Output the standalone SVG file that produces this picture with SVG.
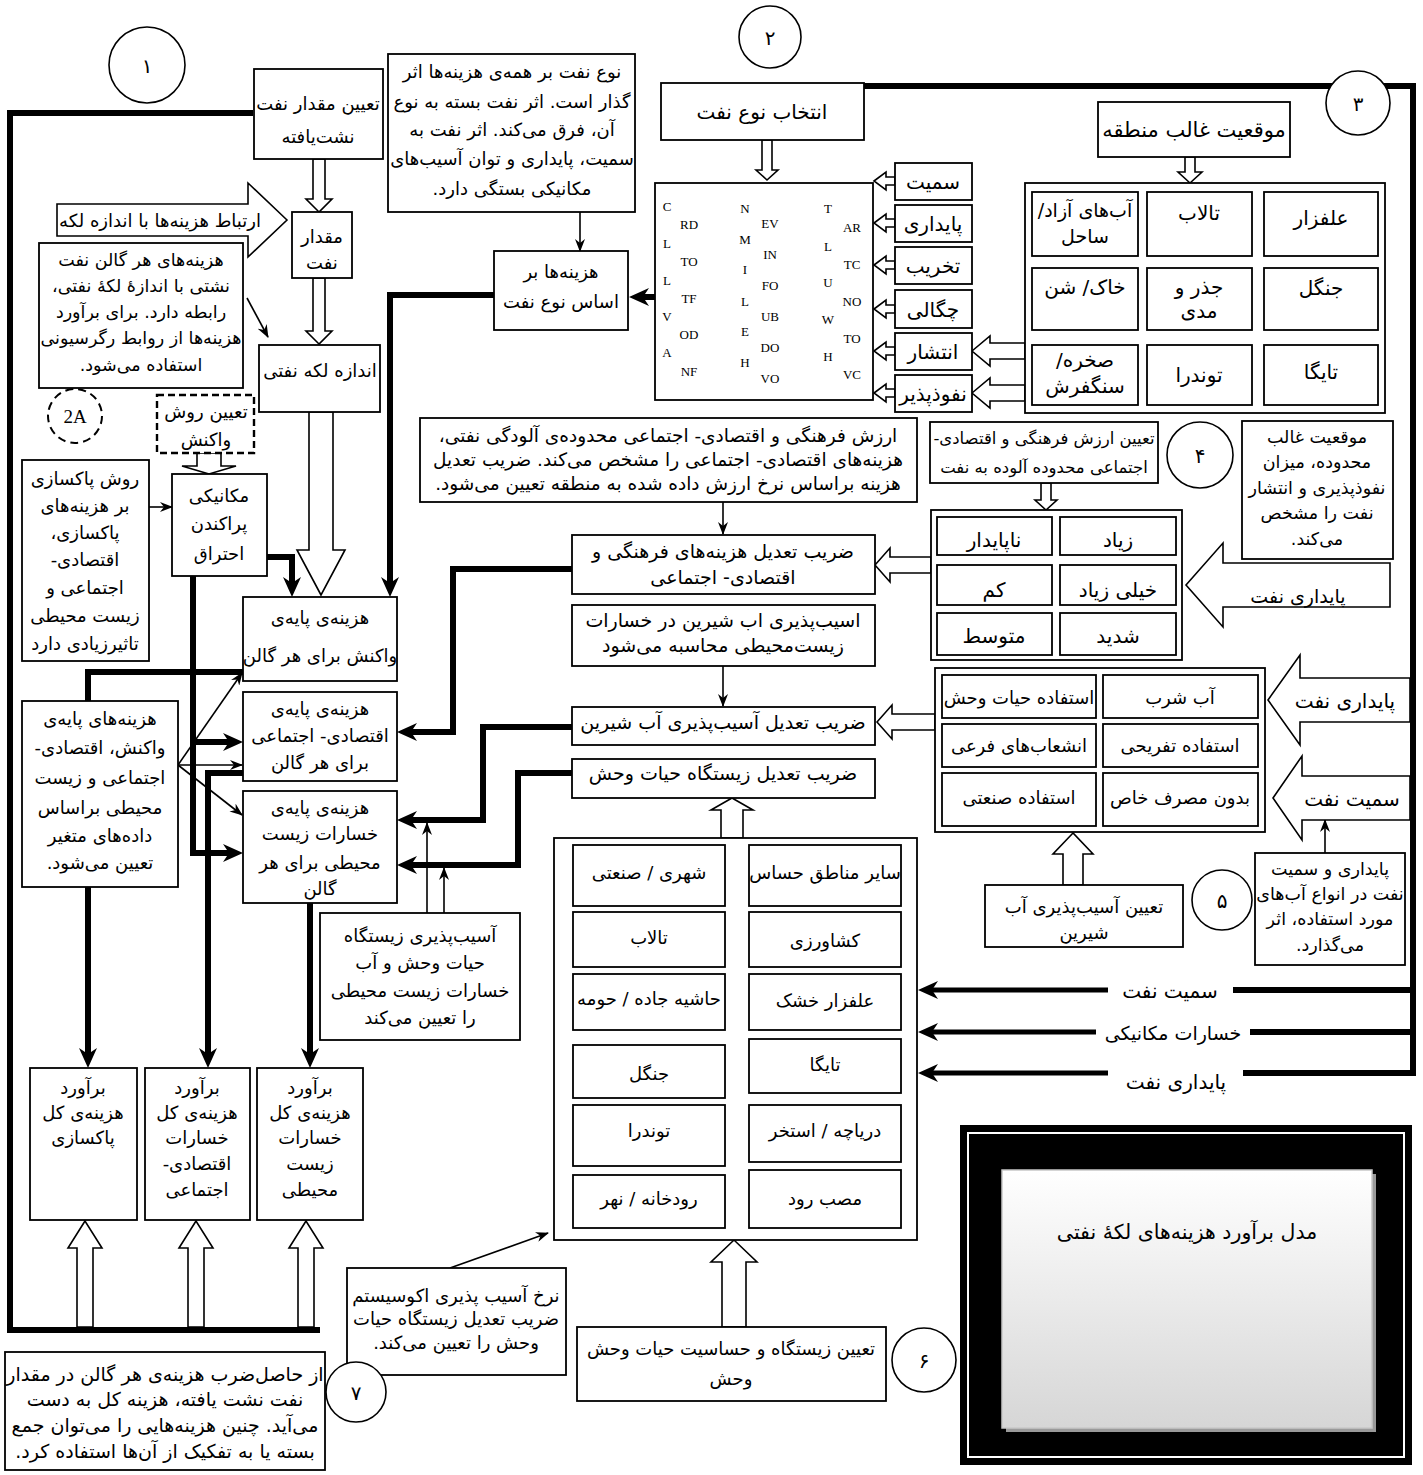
<svg xmlns="http://www.w3.org/2000/svg" width="1423" height="1475" viewBox="0 0 1423 1475">
<style>
.b{fill:#fff;stroke:#000;stroke-width:1.8}
.t{font-family:'DejaVu Sans',sans-serif;font-size:18px;text-anchor:middle;direction:rtl;fill:#000}
.l{font-family:'Liberation Serif',serif;font-size:13px;text-anchor:middle;fill:#000}
.thick{fill:none;stroke:#000;stroke-width:6}
.thin{fill:none;stroke:#000;stroke-width:1.6}
.ha{fill:#fff;stroke:#000;stroke-width:1.6;stroke-linejoin:miter}
.c{fill:#fff;stroke:#000;stroke-width:1.6}
.s20{font-size:20px}
.s19{font-size:19px}
.s17{font-size:17.5px}
</style>
<defs>
<marker id="ah" viewBox="0 0 20 18" markerWidth="20" markerHeight="18" refX="10" refY="9" orient="auto" markerUnits="userSpaceOnUse"><path d="M0,0 L20,9 L0,18 L6,9 Z" fill="#000"/></marker>
<marker id="as" viewBox="0 0 13 10" markerWidth="13" markerHeight="10" refX="12" refY="5" orient="auto" markerUnits="userSpaceOnUse"><path d="M0,0 L13,5 L0,10 L4,5 Z" fill="#000"/></marker>
<linearGradient id="pg" x1="0" y1="0" x2="0" y2="1"><stop offset="0" stop-color="#ffffff"/><stop offset="1" stop-color="#d6d6d6"/></linearGradient>
</defs>
<rect width="1423" height="1475" fill="#fff"/>

<g id="connectors">
<path class="thick" d="M253 113 H10 V1330 H320"/>
<path class="thick" d="M864 86 H1413 V1073 H1243"/>
<path class="thick" d="M1413 990 H1233"/>
<path class="thick" d="M1413 1032 H1250"/>
<path class="thick" d="M1108 990 H928" marker-end="url(#ah)" style="stroke-width:5"/>
<path class="thick" d="M1096 1032 H928" marker-end="url(#ah)" style="stroke-width:5"/>
<path class="thick" d="M1108 1073 H928" marker-end="url(#ah)" style="stroke-width:5"/>
<path class="thick" d="M494 295 H390 V587" marker-end="url(#ah)"/>
<path class="thick" d="M655 297 H639" marker-end="url(#ah)"/>
<path class="thick" d="M267 557 H292 V587" marker-end="url(#ah)"/>
<path class="thick" d="M572 569 H453 V732 H407" marker-end="url(#ah)"/>
<path class="thick" d="M572 727 H483 V820 H407" marker-end="url(#ah)"/>
<path class="thick" d="M572 773 H518 V865 H407" marker-end="url(#ah)"/>
<path class="thick" d="M88 701 V672 H243"/>
<path class="thick" d="M193 576 V853 H233" marker-end="url(#ah)"/>
<path class="thick" d="M193 742 H233" marker-end="url(#ah)"/>
<path class="thick" d="M243 773 H208 V1058" marker-end="url(#ah)"/>
<path class="thick" d="M88 887 V1058" marker-end="url(#ah)"/>
<path class="thick" d="M310 903 V1058" marker-end="url(#ah)"/>
<path class="thin" d="M580 212 V251" marker-end="url(#as)"/>
<path class="thin" d="M723 502 V534" marker-end="url(#as)"/>
<path class="thin" d="M723 666 V706" marker-end="url(#as)"/>
<path class="thin" d="M149 507 H172" marker-end="url(#as)"/>
<path class="thin" d="M247 298 L268 337" marker-end="url(#as)"/>
<path class="thin" d="M178 765 L242 673" marker-end="url(#as)"/>
<path class="thin" d="M178 765 H242" marker-end="url(#as)"/>
<path class="thin" d="M178 765 L242 815" marker-end="url(#as)"/>
<path class="thin" d="M427 913 V823" marker-end="url(#as)"/>
<path class="thin" d="M444 913 V868" marker-end="url(#as)"/>
<path class="thin" d="M1325 853 V820" marker-end="url(#as)"/>
<path class="thin" d="M450 1268 L548 1233" marker-end="url(#as)"/>
<path class="ha" d="M319 212 L306 199 L313 199 L313 159 L325 159 L325 199 L332 199 Z"/>
<path class="ha" d="M319 344 L306 331 L313 331 L313 278 L325 278 L325 331 L332 331 Z"/>
<path class="ha" d="M209 474 L182 466 L197 466 L197 453 L221 453 L221 466 L236 466 Z"/>
<path class="ha" d="M321 595 L297 550 L309 550 L309 412 L333 412 L333 550 L345 550 Z"/>
<path class="ha" d="M767 180 L756 170 L762 170 L762 140 L772 140 L772 170 L778 170 Z"/>
<path class="ha" d="M874 181 L886 172 L886 177 L895 177 L895 185 L886 185 L886 190 Z"/>
<path class="ha" d="M874 223 L886 214 L886 219 L895 219 L895 227 L886 227 L886 232 Z"/>
<path class="ha" d="M874 265 L886 256 L886 261 L895 261 L895 269 L886 269 L886 274 Z"/>
<path class="ha" d="M874 309 L886 300 L886 305 L895 305 L895 313 L886 313 L886 318 Z"/>
<path class="ha" d="M874 351 L886 342 L886 347 L895 347 L895 355 L886 355 L886 360 Z"/>
<path class="ha" d="M874 393 L886 384 L886 389 L895 389 L895 397 L886 397 L886 402 Z"/>
<path class="ha" d="M1190 183 L1178 172 L1185 172 L1185 157 L1195 157 L1195 172 L1202 172 Z"/>
<path class="ha" d="M972 351 L990 336 L990 343 L1025 343 L1025 359 L990 359 L990 366 Z"/>
<path class="ha" d="M972 393 L990 378 L990 385 L1025 385 L1025 401 L990 401 L990 408 Z"/>
<path class="ha" d="M1046 510 L1035 500 L1041 500 L1041 483 L1051 483 L1051 500 L1057 500 Z"/>
<path class="ha" d="M875 565 L890 548 L890 557 L931 557 L931 573 L890 573 L890 582 Z"/>
<path class="ha" d="M877 722 L892 705 L892 714 L935 714 L935 730 L892 730 L892 739 Z"/>
<path class="ha" d="M1073 833 L1053 854 L1063 854 L1063 885 L1083 885 L1083 854 L1093 854 Z"/>
<path class="ha" d="M732 798 L711 810 L721 810 L721 838 L743 838 L743 810 L753 810 Z"/>
<path class="ha" d="M734 1240 L711 1262 L722 1262 L722 1327 L746 1327 L746 1262 L757 1262 Z"/>
<path class="ha" d="M85 1221 L68 1248 L77 1248 L77 1327 L93 1327 L93 1248 L102 1248 Z"/>
<path class="ha" d="M196 1221 L179 1248 L188 1248 L188 1327 L204 1327 L204 1248 L213 1248 Z"/>
<path class="ha" d="M306 1221 L289 1248 L298 1248 L298 1327 L314 1327 L314 1248 L323 1248 Z"/>
<text class="t s20" x="1170" y="998">سمیت نفت</text>
<text class="t s19" x="1173" y="1040">خسارات مکانیکی</text>
<text class="t s20" x="1176" y="1089">پایداری نفت</text>
</g>

<g id="circle1"><circle class="c" cx="147" cy="65" r="38"/><text class="t s20" x="147" y="73">۱</text></g>
<g id="circle2"><circle class="c" cx="770" cy="37" r="31"/><text class="t s20" x="770" y="45">۲</text></g>
<g id="circle3"><circle class="c" cx="1358" cy="103" r="32"/><text class="t s20" x="1358" y="111">۳</text></g>
<g id="circle4"><circle class="c" cx="1200" cy="455" r="33"/><text class="t s20" x="1200" y="463">۴</text></g>
<g id="circle5"><circle class="c" cx="1222" cy="900" r="30"/><text class="t s20" x="1222" y="908">۵</text></g>
<g id="circle6"><circle class="c" cx="924" cy="1360" r="32"/><text class="t s20" x="924" y="1368">۶</text></g>
<g id="circle2A"><circle class="c" cx="75" cy="416" r="27" style="stroke-dasharray:8 5;stroke-width:2"/><text class="l" x="75" y="423" style="font-size:19px">2A</text></g>

<g id="n-amount-leak"><rect class="b" x="254" y="69" width="129" height="90"/><text class="t" x="318" y="110">تعیین مقدار نفت</text><text class="t" x="318" y="143">نشت‌یافته</text></g>
<g id="n-amount"><rect class="b" x="292" y="212" width="60" height="66"/><text class="t" x="322" y="243">مقدار</text><text class="t" x="322" y="269">نفت</text></g>
<g id="n-link-arrow"><path class="ha" d="M287 220 L248 183 L248 204 L57 204 L57 236 L248 236 L248 257 Z"/><text class="t" x="160" y="227">ارتباط هزینه‌ها با اندازه لکه</text></g>
<g id="n-note-gallon"><rect class="b" x="39" y="243" width="204" height="145"/>
<text class="t s17" x="141" y="266">هزینه‌های هر گالن نفت</text>
<text class="t s17" x="141" y="292">نشتی با اندازهٔ لکهٔ نفتی،</text>
<text class="t s17" x="141" y="318">رابطه دارد. برای برآورد</text>
<text class="t s17" x="141" y="344">هزینه‌ها از روابط رگرسیونی</text>
<text class="t s17" x="141" y="371">استفاده می‌شود.</text></g>
<g id="n-slick-size"><rect class="b" x="259" y="345" width="121" height="67"/><text class="t" x="320" y="377">اندازه لکه نفتی</text></g>
<g id="n-method"><rect class="b" x="157" y="395" width="97" height="58" style="stroke-dasharray:7 4;stroke-width:2.4"/><text class="t" x="206" y="418">تعیین روش</text><text class="t" x="206" y="446">واکنش</text></g>
<g id="n-cleanup-method"><rect class="b" x="22" y="460" width="127" height="201"/>
<text class="t" x="85" y="485">روش پاکسازی</text>
<text class="t" x="85" y="512">بر هزینه‌های</text>
<text class="t" x="85" y="539">پاکسازی،</text>
<text class="t" x="85" y="566">اقتصادی-</text>
<text class="t" x="85" y="594">اجتماعی و</text>
<text class="t" x="85" y="622">زیست محیطی</text>
<text class="t" x="85" y="650">تاثیرزیادی دارد</text></g>
<g id="n-mech"><rect class="b" x="172" y="474" width="95" height="102"/><text class="t" x="219" y="502">مکانیکی</text><text class="t" x="219" y="530">پراکندن</text><text class="t" x="219" y="560">احتراق</text></g>
<g id="n-base1"><rect class="b" x="243" y="597" width="154" height="84"/><text class="t" x="320" y="624">هزینه‌ی پایه‌ی</text><text class="t" x="320" y="662">واکنش برای هر گالن</text></g>
<g id="n-base2"><rect class="b" x="243" y="692" width="154" height="89"/><text class="t" x="320" y="715">هزینه‌ی پایه‌ی</text><text class="t" x="320" y="742">اقتصادی- اجتماعی</text><text class="t" x="320" y="769">برای هر گالن</text></g>
<g id="n-base3"><rect class="b" x="243" y="791" width="154" height="112"/><text class="t" x="320" y="814">هزینه‌ی پایه‌ی</text><text class="t" x="320" y="840">خسارات زیست</text><text class="t" x="320" y="869">محیطی برای هر</text><text class="t" x="320" y="895">گالن</text></g>
<g id="n-base-costs"><rect class="b" x="22" y="701" width="156" height="186"/>
<text class="t" x="100" y="725">هزینه‌های پایه‌ی</text>
<text class="t" x="100" y="754">واکنش، اقتصادی-</text>
<text class="t" x="100" y="784">اجتماعی و زیست</text>
<text class="t" x="100" y="814">محیطی براساس</text>
<text class="t" x="100" y="842">داده‌های متغیر</text>
<text class="t" x="100" y="869">تعیین می‌شود.</text></g>

<g id="n-oiltype-note"><rect class="b" x="388" y="54" width="247" height="158"/>
<text class="t" x="512" y="78">نوع نفت بر همه‌ی هزینه‌ها اثر</text>
<text class="t" x="512" y="108">گذار است. اثر نفت بسته به نوع</text>
<text class="t" x="512" y="136">آن، فرق می‌کند. اثر نفت به</text>
<text class="t" x="512" y="165">سمیت، پایداری و توان آسیب‌های</text>
<text class="t" x="512" y="195">مکانیکی بستگی دارد.</text></g>
<g id="n-select-oil"><rect class="b" x="661" y="83" width="203" height="57"/><text class="t s20" x="762" y="119">انتخاب نوع نفت</text></g>
<g id="n-cost-by-type"><rect class="b" x="494" y="251" width="134" height="79"/><text class="t" x="561" y="278">هزینه‌ها بر</text><text class="t" x="561" y="308">اساس نوع نفت</text></g>
<g id="n-oil-codes"><rect class="b" x="655" y="183" width="218" height="217"/>
<text class="l" x="667" y="211">C</text><text class="l" x="667" y="248">L</text><text class="l" x="667" y="285">L</text><text class="l" x="667" y="321">V</text><text class="l" x="667" y="357">A</text>
<text class="l" x="689" y="229">RD</text><text class="l" x="689" y="266">TO</text><text class="l" x="689" y="303">TF</text><text class="l" x="689" y="339">OD</text><text class="l" x="689" y="376">NF</text>
<text class="l" x="745" y="213">N</text><text class="l" x="745" y="244">M</text><text class="l" x="745" y="274">I</text><text class="l" x="745" y="306">L</text><text class="l" x="745" y="336">E</text><text class="l" x="745" y="367">H</text>
<text class="l" x="770" y="228">EV</text><text class="l" x="770" y="259">IN</text><text class="l" x="770" y="290">FO</text><text class="l" x="770" y="321">UB</text><text class="l" x="770" y="352">DO</text><text class="l" x="770" y="383">VO</text>
<text class="l" x="828" y="213">T</text><text class="l" x="828" y="251">L</text><text class="l" x="828" y="287">U</text><text class="l" x="828" y="324">W</text><text class="l" x="828" y="361">H</text>
<text class="l" x="852" y="232">AR</text><text class="l" x="852" y="269">TC</text><text class="l" x="852" y="306">NO</text><text class="l" x="852" y="343">TO</text><text class="l" x="852" y="379">VC</text></g>
<g id="n-props">
<rect class="b" x="895" y="163" width="77" height="37"/><text class="t s20" x="933" y="189">سمیت</text>
<rect class="b" x="895" y="205" width="77" height="37"/><text class="t s20" x="933" y="231">پایداری</text>
<rect class="b" x="895" y="247" width="77" height="37"/><text class="t s20" x="933" y="273">تخریب</text>
<rect class="b" x="895" y="290" width="77" height="38"/><text class="t s20" x="933" y="317">چگالی</text>
<rect class="b" x="895" y="333" width="77" height="37"/><text class="t s20" x="933" y="359">انتشار</text>
<rect class="b" x="895" y="375" width="77" height="37"/><text class="t s20" x="933" y="401">نفوذپذیر</text></g>
<g id="n-region"><rect class="b" x="1098" y="102" width="192" height="55"/><text class="t" x="1194" y="137" style="font-size:21px">موقعیت غالب منطقه</text></g>
<g id="n-region-grid"><rect class="b" x="1025" y="183" width="360" height="230"/>
<rect class="b" x="1032" y="192" width="106" height="64"/><text class="t s19" x="1085" y="217">آب‌های آزاد/</text><text class="t s19" x="1085" y="243">ساحل</text>
<rect class="b" x="1147" y="192" width="105" height="64"/><text class="t s20" x="1199" y="220">تالاب</text>
<rect class="b" x="1264" y="192" width="114" height="64"/><text class="t s20" x="1321" y="225">علفزار</text>
<rect class="b" x="1032" y="268" width="106" height="62"/><text class="t s20" x="1085" y="294">خاک/ شن</text>
<rect class="b" x="1147" y="268" width="105" height="62"/><text class="t s20" x="1199" y="294">جذر و</text><text class="t s20" x="1199" y="318">مدی</text>
<rect class="b" x="1264" y="268" width="114" height="62"/><text class="t s20" x="1321" y="295">جنگل</text>
<rect class="b" x="1032" y="345" width="106" height="60"/><text class="t s20" x="1085" y="367">صخره/</text><text class="t s20" x="1085" y="393">سنگفرش</text>
<rect class="b" x="1147" y="345" width="105" height="60"/><text class="t s20" x="1199" y="382">توندرا</text>
<rect class="b" x="1264" y="345" width="114" height="60"/><text class="t s20" x="1321" y="379">تایگا</text></g>

<g id="n-value-note"><rect class="b" x="420" y="418" width="497" height="84"/>
<text class="t" x="668" y="442" style="font-size:18.5px">ارزش فرهنگی و اقتصادی- اجتماعی محدوده‌ی آلودگی نفتی،</text>
<text class="t" x="668" y="466" style="font-size:18.5px">هزینه‌های اقتصادی- اجتماعی را مشخص می‌کند. ضریب تعدیل</text>
<text class="t" x="668" y="490" style="font-size:18.5px">هزینه براساس نرخ ارزش داده شده به منطقه تعیین می‌شود.</text></g>
<g id="n-coef-culture"><rect class="b" x="572" y="535" width="303" height="59"/><text class="t s19" x="723" y="558">ضریب تعدیل هزینه‌های فرهنگی و</text><text class="t s19" x="723" y="584">اقتصادی- اجتماعی</text></g>
<g id="n-fresh-note"><rect class="b" x="572" y="605" width="303" height="61"/><text class="t s19" x="723" y="627">اسیب‌پذیری اب شیرین در خسارات</text><text class="t s19" x="723" y="652">زیست‌محیطی محاسبه می‌شود</text></g>
<g id="n-coef-fresh"><rect class="b" x="572" y="707" width="303" height="38"/><text class="t s19" x="723" y="729">ضریب تعدیل آسیب‌پذیری آب شیرین</text></g>
<g id="n-coef-habitat"><rect class="b" x="572" y="759" width="303" height="39"/><text class="t s19" x="723" y="780">ضریب تعدیل زیستگاه حیات وحش</text></g>

<g id="n-value-title"><rect class="b" x="930" y="422" width="228" height="61"/><text class="t" x="1044" y="444" style="font-size:16.5px">تعیین ارزش فرهنگی و اقتصادی-</text><text class="t" x="1044" y="473" style="font-size:16.5px">اجتماعی محدوده آلوده به نفت</text></g>
<g id="n-region-note"><rect class="b" x="1242" y="421" width="151" height="138"/>
<text class="t s17" x="1317" y="443">موقعیت غالب</text>
<text class="t s17" x="1317" y="468">محدوده، میزان</text>
<text class="t s17" x="1317" y="494">نفوذپذیری و انتشار</text>
<text class="t s17" x="1317" y="519">نفت را مشخص</text>
<text class="t s17" x="1317" y="545">می‌کند.</text></g>
<g id="n-persist-grid"><rect class="b" x="931" y="510" width="251" height="150"/>
<rect class="b" x="937" y="517" width="115" height="38"/><text class="t s20" x="994" y="547">ناپایدار</text>
<rect class="b" x="1060" y="517" width="116" height="38"/><text class="t s20" x="1118" y="547">زیاد</text>
<rect class="b" x="937" y="565" width="115" height="40"/><text class="t s20" x="994" y="597">کم</text>
<rect class="b" x="1060" y="565" width="116" height="40"/><text class="t s20" x="1118" y="597">خیلی زیاد</text>
<rect class="b" x="937" y="613" width="115" height="42"/><text class="t s20" x="994" y="643">متوسط</text>
<rect class="b" x="1060" y="613" width="116" height="42"/><text class="t s20" x="1118" y="643">شدید</text></g>
<g id="n-persist-arrow"><path class="ha" d="M1186 585 L1223 543 L1223 563 L1390 563 L1390 607 L1223 607 L1223 627 Z"/><text class="t s19" x="1298" y="603">پایداری نفت</text></g>
<g id="n-water-grid"><rect class="b" x="935" y="668" width="330" height="164"/>
<rect class="b" x="942" y="675" width="154" height="43"/><text class="t" x="1019" y="704">استفاده حیات وحش</text>
<rect class="b" x="1103" y="675" width="155" height="43"/><text class="t" x="1180" y="704">آب شرب</text>
<rect class="b" x="942" y="724" width="154" height="43"/><text class="t" x="1019" y="752">انشعاب‌های فرعی</text>
<rect class="b" x="1103" y="724" width="155" height="43"/><text class="t" x="1180" y="752">استفاده تفریحی</text>
<rect class="b" x="942" y="773" width="154" height="53"/><text class="t" x="1019" y="804">استفاده صنعتی</text>
<rect class="b" x="1103" y="773" width="155" height="53"/><text class="t" x="1180" y="804">بدون مصرف خاص</text></g>
<g id="n-persist-arrow2"><path class="ha" d="M1268 700 L1300 655 L1300 678 L1410 678 L1410 722 L1300 722 L1300 745 Z"/><text class="t s20" x="1345" y="708">پایداری نفت</text></g>
<g id="n-tox-arrow"><path class="ha" d="M1273 798 L1302 756 L1302 776 L1410 776 L1410 820 L1302 820 L1302 840 Z"/><text class="t s20" x="1352" y="806">سمیت نفت</text></g>
<g id="n-water-note"><rect class="b" x="1255" y="853" width="150" height="112"/>
<text class="t s17" x="1330" y="875">پایداری و سمیت</text>
<text class="t s17" x="1330" y="900">نفت در انواع آب‌های</text>
<text class="t s17" x="1330" y="925">مورد استفاده، اثر</text>
<text class="t s17" x="1330" y="951">می‌گذارد.</text></g>
<g id="n-fresh-title"><rect class="b" x="985" y="885" width="198" height="62"/><text class="t" x="1084" y="913">تعیین آسیب‌پذیری آب</text><text class="t" x="1084" y="939">شیرین</text></g>

<g id="n-habitat-note"><rect class="b" x="320" y="913" width="200" height="127"/>
<text class="t" x="420" y="942">آسیب‌پذیری زیستگاه</text>
<text class="t" x="420" y="969">حیات وحش و آب</text>
<text class="t" x="420" y="997">خسارات زیست محیطی</text>
<text class="t" x="420" y="1024">را تعیین می‌کند</text></g>
<g id="n-habitat-grid"><rect class="b" x="554" y="838" width="363" height="402"/>
<rect class="b" x="749" y="845" width="152" height="61"/><text class="t" x="825" y="879">سایر مناطق حساس</text>
<rect class="b" x="573" y="845" width="152" height="61"/><text class="t" x="649" y="879">شهری / صنعتی</text>
<rect class="b" x="749" y="912" width="152" height="55"/><text class="t" x="825" y="947">کشاورزی</text>
<rect class="b" x="573" y="912" width="152" height="55"/><text class="t" x="649" y="944">تالاب</text>
<rect class="b" x="749" y="974" width="152" height="56"/><text class="t" x="825" y="1007">علفزار خشک</text>
<rect class="b" x="573" y="974" width="152" height="56"/><text class="t" x="649" y="1005">حاشیه جاده / حومه</text>
<rect class="b" x="749" y="1039" width="152" height="54"/><text class="t" x="825" y="1071">تایگا</text>
<rect class="b" x="573" y="1045" width="152" height="53"/><text class="t" x="649" y="1080">جنگل</text>
<rect class="b" x="749" y="1105" width="152" height="57"/><text class="t" x="825" y="1137">دریاچه / استخر</text>
<rect class="b" x="573" y="1105" width="152" height="61"/><text class="t" x="649" y="1137">توندرا</text>
<rect class="b" x="749" y="1170" width="152" height="58"/><text class="t" x="825" y="1205">مصب رود</text>
<rect class="b" x="573" y="1175" width="152" height="53"/><text class="t" x="649" y="1205">رودخانه / نهر</text></g>
<g id="n-eco-note"><rect class="b" x="347" y="1268" width="219" height="107"/>
<text class="t" x="456" y="1302">نرخ آسیب پذیری اکوسیستم</text>
<text class="t" x="456" y="1325">ضریب تعدیل زیستگاه حیات</text>
<text class="t" x="456" y="1349">وحش را تعیین می‌کند.</text></g>
<g id="n-habitat-title"><rect class="b" x="577" y="1327" width="309" height="74"/><text class="t" x="731" y="1355">تعیین زیستگاه و حساسیت حیات وحش</text><text class="t" x="731" y="1385">وحش</text></g>

<g id="n-total1"><rect class="b" x="30" y="1068" width="107" height="152"/><text class="t" x="83" y="1094">برآورد</text><text class="t" x="83" y="1119">هزینه‌ی کل</text><text class="t" x="83" y="1144">پاکسازی</text></g>
<g id="n-total2"><rect class="b" x="145" y="1068" width="105" height="152"/><text class="t" x="197" y="1094">برآورد</text><text class="t" x="197" y="1119">هزینه‌ی کل</text><text class="t" x="197" y="1144">خسارات</text><text class="t" x="197" y="1170">اقتصادی-</text><text class="t" x="197" y="1196">اجتماعی</text></g>
<g id="n-total3"><rect class="b" x="257" y="1068" width="106" height="152"/><text class="t" x="310" y="1094">برآورد</text><text class="t" x="310" y="1119">هزینه‌ی کل</text><text class="t" x="310" y="1144">خسارات</text><text class="t" x="310" y="1170">زیست</text><text class="t" x="310" y="1196">محیطی</text></g>
<g id="n-total-note"><rect class="b" x="5" y="1352" width="320" height="118"/>
<text class="t s19" x="165" y="1381">از حاصل‌ضرب هزینه‌ی هر گالن در مقدار</text>
<text class="t s19" x="165" y="1406">نفت نشت یافته، هزینه کل به دست</text>
<text class="t s19" x="165" y="1432">می‌آید. چنین هزینه‌هایی را می‌توان جمع</text>
<text class="t s19" x="165" y="1458">بسته یا به تفکیک از آن‌ها استفاده کرد.</text></g>
<g id="circle7"><circle class="c" cx="356" cy="1392" r="30"/><text class="t s20" x="356" y="1400">۷</text></g>

<g id="n-title"><rect x="960" y="1125" width="452" height="340" fill="#000"/>
<rect x="968" y="1133" width="436" height="324" fill="none" stroke="#fff" stroke-width="2"/>
<rect x="1006" y="1174" width="370" height="258" fill="#9a9a9a"/>
<rect x="1002" y="1170" width="370" height="258" fill="url(#pg)" stroke="#c8c8c8" stroke-width="1.5"/>
<text class="t" x="1187" y="1239" style="font-size:20.5px">مدل برآورد هزینه‌های لکهٔ نفتی</text></g>
</svg>
